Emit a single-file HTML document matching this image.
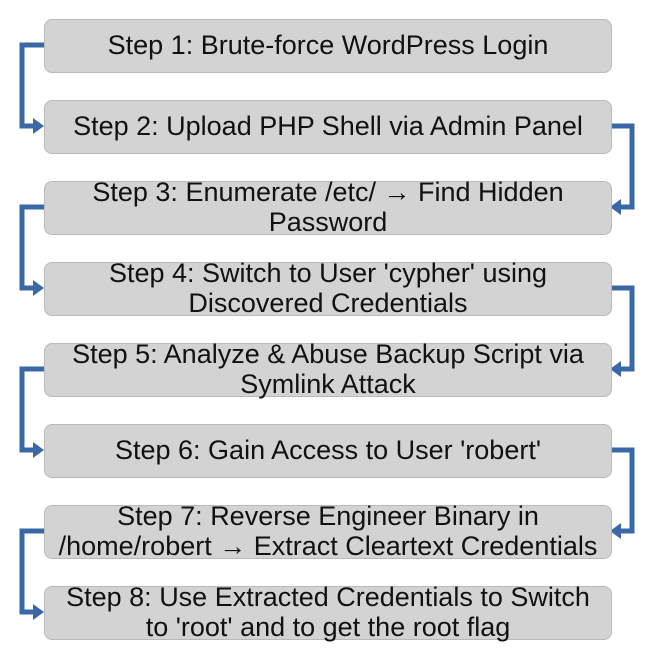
<!DOCTYPE html>
<html><head><style>
body{margin:0;background:#fff;width:651px;height:652px;position:relative;overflow:hidden;font-family:"Liberation Sans",sans-serif}
.b{position:absolute;left:44px;width:566px;height:50px;padding-bottom:2px;background:#d3d3d3;border:1px solid #b9b9b9;border-radius:8px;display:flex;align-items:center;justify-content:center;text-align:center;font-size:27px;line-height:30px;color:#111;white-space:nowrap}
svg{position:absolute;left:0;top:0}
</style></head><body>
<svg width="651" height="652">
<g fill="none" stroke="#3a67a6" stroke-width="5">
<path d="M44 45H22V126H36"/><path d="M610 126H632V207H620"/>
<path d="M44 207H22V288H36"/><path d="M610 288H632V369H620"/>
<path d="M44 369H22V450H36"/><path d="M610 450H632V531H620"/>
<path d="M44 531H22V612H36"/>
</g>
<g fill="#3a67a6">
<path d="M44 126L33 118V134Z"/><path d="M610 207L621 199V215Z"/>
<path d="M44 288L33 280V296Z"/><path d="M610 369L621 361V377Z"/>
<path d="M44 450L33 442V458Z"/><path d="M610 531L621 523V539Z"/>
<path d="M44 612L33 604V620Z"/>
</g>
</svg>
<div class="b" style="top:19px">Step 1: Brute-force WordPress Login</div>
<div class="b" style="top:100px">Step 2: Upload PHP Shell via Admin Panel</div>
<div class="b" style="top:181px">Step 3: Enumerate /etc/ → Find Hidden<br>Password</div>
<div class="b" style="top:262px">Step 4: Switch to User 'cypher' using<br>Discovered Credentials</div>
<div class="b" style="top:343px">Step 5: Analyze &amp; Abuse Backup Script via<br>Symlink Attack</div>
<div class="b" style="top:424px">Step 6: Gain Access to User 'robert'</div>
<div class="b" style="top:505px">Step 7: Reverse Engineer Binary in<br>/home/robert → Extract Cleartext Credentials</div>
<div class="b" style="top:586px">Step 8: Use Extracted Credentials to Switch<br>to 'root' and to get the root flag</div>
</body></html>
